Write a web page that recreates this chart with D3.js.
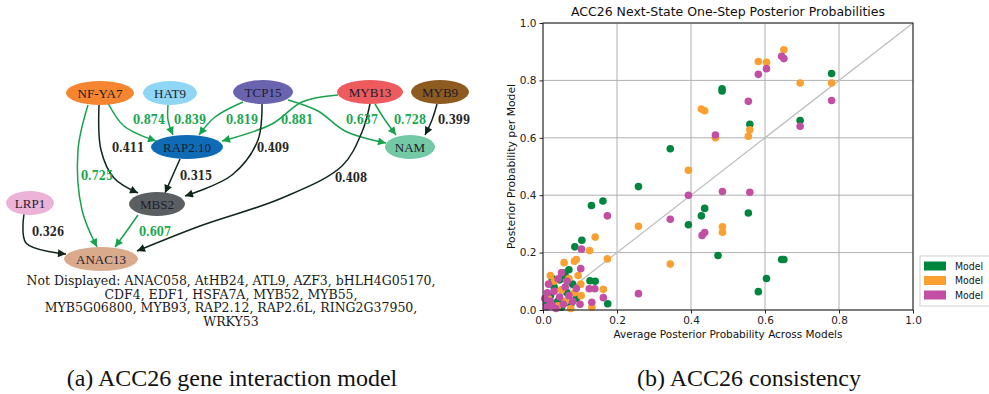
<!DOCTYPE html>
<html>
<head>
<meta charset="utf-8">
<script src="https://cdn.jsdelivr.net/npm/d3@7"></script>
<style>
  body { margin: 0; background: #fff; }
</style>
</head>
<body>
<svg id="root"></svg>
<script>
// ---- gene network (panel a) ----
const geneNames = ['NF-YA7', 'HAT9', 'TCP15', 'MYB13', 'MYB9', 'RAP2.10', 'NAM', 'LRP1', 'MBS2', 'ANAC13'];
const geneColors = ['#f5862f', '#8fd6f4', '#6a64ae', '#ee5b5e', '#8d5a1f', '#0f6bb5', '#73c9a5', '#ecb2d8', '#5b5f61', '#d9aa8c'];

const edgeFrom = ['NF-YA7', 'HAT9', 'TCP15', 'MYB13', 'TCP15', 'MYB13', 'MYB9', 'NF-YA7', 'RAP2.10', 'TCP15', 'NF-YA7', 'MYB13', 'LRP1', 'MBS2'];
const edgeTo   = ['RAP2.10', 'RAP2.10', 'RAP2.10', 'RAP2.10', 'NAM', 'NAM', 'NAM', 'MBS2', 'MBS2', 'MBS2', 'ANAC13', 'ANAC13', 'ANAC13', 'ANAC13'];
const edgeProb = [0.874, 0.839, 0.819, 0.881, 0.637, 0.728, 0.399, 0.411, 0.315, 0.409, 0.725, 0.408, 0.326, 0.607];

const notDisplayed = [
  'Not Displayed: ANAC058, AtHB24, ATL9, AZF3, bHLH4G05170,',
  'CDF4, EDF1, HSFA7A, MYB52, MYB55,',
  'MYB5G06800, MYB93, RAP2.12, RAP2.6L, RING2G37950,',
  'WRKY53'
];

// ---- consistency scatter (panel b): [average across models, per model] ----
const modelA = [
  [0.484, 0.771], [0.484, 0.763], [0.344, 0.562], [0.258, 0.430], [0.131, 0.364], [0.162, 0.380],
  [0.437, 0.354], [0.428, 0.328], [0.393, 0.297], [0.473, 0.190], [0.105, 0.243], [0.086, 0.220],
  [0.127, 0.102], [0.141, 0.100], [0.175, 0.022], [0.780, 0.824], [0.695, 0.660], [0.559, 0.647],
  [0.555, 0.338], [0.645, 0.176], [0.651, 0.176], [0.604, 0.110], [0.582, 0.064],
  [0.053, 0.130], [0.060, 0.120], [0.045, 0.105], [0.070, 0.140], [0.030, 0.080], [0.020, 0.050],
  [0.040, 0.030], [0.065, 0.060], [0.080, 0.090], [0.010, 0.020], [0.050, 0.010], [0.090, 0.040],
  [0.025, 0.110], [0.075, 0.020]
];
const modelB = [
  [0.428, 0.700], [0.437, 0.694], [0.466, 0.600], [0.393, 0.487], [0.485, 0.290], [0.485, 0.271],
  [0.258, 0.292], [0.344, 0.160], [0.141, 0.254], [0.126, 0.207], [0.174, 0.178], [0.090, 0.176],
  [0.085, 0.170], [0.057, 0.165], [0.102, 0.090], [0.163, 0.072], [0.103, 0.050], [0.132, 0.010],
  [0.651, 0.907], [0.582, 0.866], [0.604, 0.863], [0.695, 0.791], [0.780, 0.791], [0.559, 0.628],
  [0.555, 0.605],
  [0.030, 0.100], [0.050, 0.070], [0.070, 0.110], [0.015, 0.040], [0.060, 0.030], [0.085, 0.060],
  [0.040, 0.015], [0.020, 0.120], [0.095, 0.120], [0.075, 0.005]
];
const modelC = [
  [0.466, 0.610], [0.393, 0.400], [0.485, 0.413], [0.174, 0.328], [0.344, 0.316], [0.437, 0.270],
  [0.430, 0.260], [0.258, 0.057], [0.104, 0.212], [0.102, 0.144], [0.125, 0.074], [0.140, 0.074],
  [0.163, 0.043], [0.132, 0.027], [0.645, 0.884], [0.651, 0.876], [0.604, 0.841], [0.582, 0.821],
  [0.555, 0.727], [0.780, 0.730], [0.695, 0.640], [0.559, 0.410],
  [0.041, 0.109], [0.060, 0.080], [0.030, 0.065], [0.015, 0.090], [0.020, 0.030], [0.045, 0.045],
  [0.070, 0.050], [0.010, 0.010], [0.035, 0.005], [0.055, 0.020], [0.080, 0.030], [0.025, 0.015],
  [0.090, 0.075], [0.065, 0.100], [0.005, 0.040], [0.100, 0.020], [0.012, 0.060], [0.050, 0.130]
];
const seriesNames = ['Model', 'Model', 'Model'];
const seriesColors = ['#00853f', '#f9a031', '#c34fa5'];
const axisTicks = [0, 0.2, 0.4, 0.6, 0.8, 1.0];

const svg = d3.select('#root').attr('width', 989).attr('height', 394);

// ============ panel a ============
// hand-made dot-style layout: node centres and ellipse radii
const layout = {
  'NF-YA7':  { x: 100, y: 93,  rx: 34 },
  'HAT9':    { x: 170, y: 93,  rx: 27 },
  'TCP15':   { x: 263, y: 92,  rx: 30 },
  'MYB13':   { x: 370, y: 92,  rx: 33 },
  'MYB9':    { x: 440, y: 92,  rx: 29 },
  'RAP2.10': { x: 187, y: 147, rx: 36 },
  'NAM':     { x: 410, y: 147, rx: 25 },
  'LRP1':    { x: 30,  y: 203, rx: 24 },
  'MBS2':    { x: 157, y: 204, rx: 28 },
  'ANAC13':  { x: 101, y: 259, rx: 37 }
};
// routing of each edge (tail ... arrow tip) and where the label sits
const routes = [
  [[108, 103], [124, 126], [156, 141]],
  [[168, 105], [168, 120], [173, 135]],
  [[243, 102], [215, 117], [199, 135]],
  [[338, 95], [302, 102], [272, 124], [222, 141]],
  [[288, 100], [318, 111], [345, 131], [386, 143]],
  [[375, 104], [385, 120], [396, 135]],
  [[437, 104], [432, 120], [425, 135]],
  [[99, 105], [101, 150], [114, 178], [138, 193]],
  [[180, 159], [172, 177], [165, 193]],
  [[262, 104], [258, 140], [232, 175], [185, 196]],
  [[88, 105], [78, 150], [82, 210], [97, 247]],
  [[370, 104], [362, 132], [342, 166], [282, 198], [200, 226], [137, 251]],
  [[24, 214], [26, 243], [66, 254]],
  [[138, 215], [126, 232], [115, 247]]
];
const labelAt = [
  [149, 119], [190, 119], [242, 119], [297, 119], [362, 119], [410, 119], [454, 119],
  [128, 147], [196, 175], [273, 147], [97, 175], [351, 177], [48, 231], [155, 231]
];

const strong = '#16a34c';
const weak = '#11261b';
const edgeColor = p => p > 0.5 ? strong : weak;

const defs = svg.append('defs');
[['arrow-strong', strong], ['arrow-weak', weak]].forEach(([id, c]) => {
  defs.append('marker')
    .attr('id', id)
    .attr('viewBox', '0 0 10 10')
    .attr('refX', 10).attr('refY', 5)
    .attr('markerWidth', 10).attr('markerHeight', 8)
    .attr('markerUnits', 'userSpaceOnUse')
    .attr('orient', 'auto')
    .append('path').attr('d', 'M0,0 L10,5 L0,10 z').attr('fill', c);
});

const edgeLine = d3.line().curve(d3.curveCatmullRom.alpha(0.5));

const edges = edgeProb.map((p, i) => ({ from: edgeFrom[i], to: edgeTo[i], p, route: routes[i], lab: labelAt[i] }));

const graph = svg.append('g').attr('class', 'graph');

graph.selectAll('.edge')
  .data(edges)
  .enter().append('path')
  .attr('class', 'edge')
  .attr('d', d => edgeLine(d.route))
  .attr('fill', 'none')
  .attr('stroke', d => edgeColor(d.p))
  .attr('stroke-width', 1.5)
  .attr('marker-end', d => d.p > 0.5 ? 'url(#arrow-strong)' : 'url(#arrow-weak)');

graph.selectAll('.edge-label')
  .data(edges)
  .enter().append('text')
  .attr('class', 'edge-label')
  .attr('x', d => d.lab[0])
  .attr('y', d => d.lab[1])
  .attr('dy', '0.35em')
  .attr('text-anchor', 'middle')
  .attr('font-family', 'DejaVu Serif')
  .attr('font-size', 13)
  .attr('font-weight', 'bold')
  .attr('textLength', 32).attr('lengthAdjust', 'spacingAndGlyphs')
  .attr('fill', d => d.p > 0.5 ? '#1aa650' : '#262626')
  .text(d => d3.format('.3f')(d.p));

const node = graph.selectAll('.node')
  .data(geneNames)
  .enter().append('g')
  .attr('class', 'node')
  .attr('transform', d => `translate(${layout[d].x}, ${layout[d].y})`);

node.append('ellipse')
  .attr('rx', d => layout[d].rx)
  .attr('ry', 12)
  .attr('fill', (d, i) => geneColors[i]);

node.append('text')
  .attr('text-anchor', 'middle')
  .attr('dy', '0.35em')
  .attr('font-family', 'Liberation Serif')
  .attr('font-size', 13)
  .attr('fill', '#1c1c2c')
  .text(d => d);

graph.selectAll('.hidden-genes')
  .data(notDisplayed)
  .enter().append('text')
  .attr('x', 231)
  .attr('y', (d, i) => 281 + i * 13.5)
  .attr('dy', '0.35em')
  .attr('text-anchor', 'middle')
  .attr('font-family', 'DejaVu Serif')
  .attr('font-size', 12.5)
  .attr('fill', '#1a1a1a')
  .text(d => d);

// ============ panel b ============
const margin = { top: 23, left: 543, right: 76, bottom: 84 };
const width = 989 - margin.left - margin.right;
const height = 394 - margin.top - margin.bottom;

const xScale = d3.scaleLinear().domain([0, 1]).range([0, width]);
const yScale = d3.scaleLinear().domain([0, 1]).range([height, 0]);

const plot = svg.append('g')
  .attr('class', 'offset-container')
  .attr('transform', `translate(${margin.left}, ${margin.top})`);

// grid
plot.append('g').selectAll('line')
  .data(axisTicks)
  .enter().append('line')
  .attr('x1', d => xScale(d)).attr('x2', d => xScale(d))
  .attr('y1', 0).attr('y2', height)
  .attr('stroke', '#b0b0b0').attr('stroke-width', 1);
plot.append('g').selectAll('line')
  .data(axisTicks)
  .enter().append('line')
  .attr('y1', d => yScale(d)).attr('y2', d => yScale(d))
  .attr('x1', 0).attr('x2', width)
  .attr('stroke', '#b0b0b0').attr('stroke-width', 1);

// identity line
plot.append('line')
  .attr('x1', xScale(0)).attr('y1', yScale(0))
  .attr('x2', xScale(1)).attr('y2', yScale(1))
  .attr('stroke', '#bdbdbd').attr('stroke-width', 1.2);

[modelA, modelB, modelC].forEach((pts, k) => {
  plot.append('g').selectAll('circle')
    .data(pts)
    .enter().append('circle')
    .attr('cx', d => xScale(d[0]))
    .attr('cy', d => yScale(d[1]))
    .attr('r', 3.8)
    .attr('fill', seriesColors[k]);
});

const axisX = d3.axisBottom(xScale).tickValues(axisTicks).tickFormat(d3.format('.1f')).tickSize(3.5);
const axisY = d3.axisLeft(yScale).tickValues(axisTicks).tickFormat(d3.format('.1f')).tickSize(3.5);

plot.append('g').attr('class', 'x axis')
  .attr('transform', `translate(0, ${height})`)
  .call(axisX);
plot.append('g').attr('class', 'y axis').call(axisY);

plot.selectAll('.axis text')
  .attr('font-family', 'DejaVu Sans').attr('font-size', 10.5).attr('fill', '#222');
plot.selectAll('.axis .domain').remove();
plot.selectAll('.axis line').attr('stroke', '#222');

plot.append('rect')
  .attr('width', width).attr('height', height)
  .attr('fill', 'none').attr('stroke', '#222').attr('stroke-width', 1);

plot.append('text')
  .attr('x', width / 2).attr('y', -7)
  .attr('text-anchor', 'middle')
  .attr('font-family', 'DejaVu Sans').attr('font-size', 12)
  .attr('textLength', 314).attr('lengthAdjust', 'spacingAndGlyphs')
  .attr('fill', '#111')
  .text('ACC26 Next-State One-Step Posterior Probabilities');

plot.append('text')
  .attr('x', width / 2).attr('y', height + 28)
  .attr('text-anchor', 'middle')
  .attr('font-family', 'DejaVu Sans').attr('font-size', 10.5)
  .attr('textLength', 229).attr('lengthAdjust', 'spacingAndGlyphs')
  .attr('fill', '#111')
  .text('Average Posterior Probability Across Models');

plot.append('text')
  .attr('transform', `translate(-28, ${height / 2}) rotate(-90)`)
  .attr('text-anchor', 'middle')
  .attr('font-family', 'DejaVu Sans').attr('font-size', 10.5)
  .attr('textLength', 165).attr('lengthAdjust', 'spacingAndGlyphs')
  .attr('fill', '#111')
  .text('Posterior Probability per Model');

// legend
const legend = svg.append('g').attr('transform', 'translate(920, 256)');
legend.append('rect')
  .attr('width', 80).attr('height', 50)
  .attr('fill', '#fff').attr('stroke', '#d0d0d0');
const item = legend.selectAll('.item')
  .data(seriesNames)
  .enter().append('g')
  .attr('transform', (d, i) => `translate(4, ${10 + i * 14.5})`);
item.append('rect')
  .attr('x', 0).attr('y', -4.5).attr('width', 22).attr('height', 9)
  .attr('fill', (d, i) => seriesColors[i]);
item.append('text')
  .attr('x', 31).attr('dy', '0.35em')
  .attr('font-family', 'DejaVu Sans').attr('font-size', 10.5)
  .attr('textLength', 28).attr('lengthAdjust', 'spacingAndGlyphs')
  .attr('fill', '#111')
  .text(d => d);

// captions
const captions = [['(a) ACC26 gene interaction model', 232], ['(b) ACC26 consistency', 749]];
svg.selectAll('.caption')
  .data(captions)
  .enter().append('text')
  .attr('class', 'caption')
  .attr('x', d => d[1]).attr('y', 386)
  .attr('text-anchor', 'middle')
  .attr('font-family', 'Liberation Serif').attr('font-size', 24)
  .attr('fill', '#111')
  .text(d => d[0]);
</script>
</body>
</html>
